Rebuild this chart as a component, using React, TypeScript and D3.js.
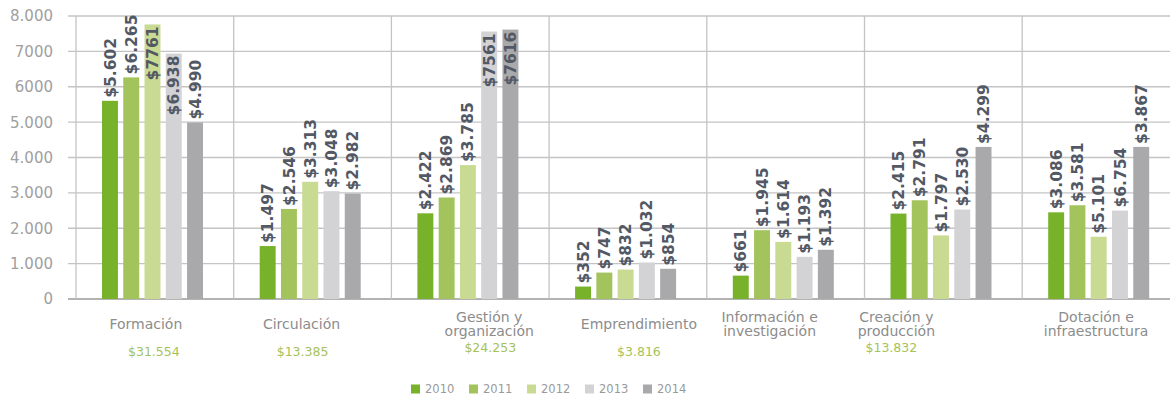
import React from "react";
import * as d3 from "d3";

// ---- data ----
const categories = [
  "Formación",
  "Circulación",
  "Gestión y\norganización",
  "Emprendimiento",
  "Información e\ninvestigación",
  "Creación y\nproducción",
  "Dotación e\ninfraestructura",
];
const years = ["2010", "2011", "2012", "2013", "2014"];

// bar heights as drawn
const bars2010 = [5602, 1497, 2422, 352, 661, 2415, 2450];
const bars2011 = [6265, 2546, 2869, 747, 1945, 2791, 2650];
const bars2012 = [7761, 3313, 3785, 832, 1614, 1797, 1760];
const bars2013 = [6938, 3048, 7561, 1032, 1193, 2530, 2500];
const bars2014 = [4990, 2982, 7616, 854, 1392, 4299, 4300];

// printed value labels
const labels2010 = ["$5.602", "$1.497", "$2.422", "$352", "$661", "$2.415", "$3.086"];
const labels2011 = ["$6.265", "$2.546", "$2.869", "$747", "$1.945", "$2.791", "$3.581"];
const labels2012 = ["$7761", "$3.313", "$3.785", "$832", "$1.614", "$1.797", "$5.101"];
const labels2013 = ["$6.938", "$3.048", "$7561", "$1.032", "$1.193", "$2.530", "$6.754"];
const labels2014 = ["$4.990", "$2.982", "$7616", "$854", "$1.392", "$4.299", "$3.867"];

const totals = ["$31.554", "$13.385", "$24.253", "$3.816", "", "$13.832", ""];

const yTicks = [0, 1000, 2000, 3000, 4000, 5000, 6000, 7000, 8000];
const yTickLabels = ["0", "1.000", "2.000", "3.000", "4.000", "5.000", "6000", "7000", "8.000"];

// ---- layout / style ----
const W = 1170;
const H = 407;
const plotLeft = 76;
const plotTop = 16;
const plotBottom = 299;
const groupW = 157.7;
const colors = ["#77b22a", "#a3c35c", "#c9da92", "#d3d3d5", "#a9a9ab"];
const labelShift = [-9, -11, 19, 11, -16, -47, -5];
const totalShift = [-1, -10, 20, 11, 0, -52, 0];
const FONT = "'DejaVu Sans', 'Liberation Sans', sans-serif";

export default function App() {
  const barSeries = [bars2010, bars2011, bars2012, bars2013, bars2014];
  const labelSeries = [labels2010, labels2011, labels2012, labels2013, labels2014];

  const x = d3
    .scaleBand<string>()
    .domain(categories)
    .range([plotLeft, plotLeft + groupW * categories.length])
    .padding(0);
  const xi = d3.scaleBand<string>().domain(years).range([26, 127]).paddingInner(0.25);
  const y = d3.scaleLinear().domain([0, 8000]).range([plotBottom, plotTop]);

  const legendX = d3.scaleBand<string>().domain(years).range([411, 701]);

  return (
    <svg
      width={W}
      height={H}
      style={{ position: "absolute", left: 0, top: 0, background: "#fff" }}
      fontFamily={FONT}
    >
      {/* horizontal grid */}
      {yTicks.map((t, i) => (
        <g key={"g" + t}>
          <line
            x1={68}
            x2={W}
            y1={y(t)}
            y2={y(t)}
            stroke={t === 0 ? "#9a9a9a" : "#c4c4c4"}
            strokeWidth={t === 0 ? 1.6 : 1.3}
          />
          <text
            x={53}
            y={y(t)}
            dy="0.36em"
            textAnchor="end"
            fontSize={15}
            fill="#a0a0a0"
          >
            {yTickLabels[i]}
          </text>
        </g>
      ))}
      {/* vertical separators */}
      {categories.map((c) => (
        <line
          key={"v" + c}
          x1={x(c)!}
          x2={x(c)!}
          y1={plotTop}
          y2={plotBottom}
          stroke="#c4c4c4"
          strokeWidth={1.3}
        />
      ))}
      {/* bars */}
      {categories.map((c, ci) => (
        <g key={"b" + c} transform={`translate(${x(c)},0)`}>
          {years.map((yr, yi) => {
            const v = barSeries[yi][ci];
            const top = y(v);
            const bx = xi(yr)!;
            const bw = xi.bandwidth();
            const inside = top - 60 < plotTop - 8;
            const lx = bx + bw / 2;
            return (
              <g key={yr}>
                <rect x={bx} y={top} width={bw} height={plotBottom - top} fill={colors[yi]} />
                <text
                  transform={`translate(${lx},${inside ? top + 2 : top - 3}) rotate(-90)`}
                  textAnchor={inside ? "end" : "start"}
                  dy="0.36em"
                  fontSize={15.5}
                  fontWeight="bold"
                  fill="#525864"
                >
                  {labelSeries[yi][ci]}
                </text>
              </g>
            );
          })}
        </g>
      ))}
      {/* category labels */}
      {categories.map((c, ci) => {
        const lines = c.split("\n");
        const cx = x(c)! + groupW / 2 + labelShift[ci];
        const y0 = lines.length === 1 ? 329 : 322;
        return (
          <g key={"l" + c}>
            {lines.map((ln, li) => (
              <text
                key={li}
                x={cx}
                y={y0 + li * 14}
                textAnchor="middle"
                fontSize={14}
                fill="#8c8c8c"
              >
                {ln}
              </text>
            ))}
            {totals[ci] && (
              <text
                x={x(c)! + groupW / 2 + totalShift[ci]}
                y={lines.length === 1 ? 356 : 352}
                textAnchor="middle"
                fontSize={12.5}
                fill="#a6c25a"
              >
                {totals[ci]}
              </text>
            )}
          </g>
        );
      })}
      {/* legend */}
      {years.map((yr, yi) => (
        <g key={"lg" + yr} transform={`translate(${legendX(yr)},389)`}>
          <rect x={0} y={-4.5} width={9} height={9} fill={colors[yi]} />
          <text x={14} y={0} dy="0.36em" fontSize={11.5} fill="#9a9a9a">
            {yr}
          </text>
        </g>
      ))}
    </svg>
  );
}
